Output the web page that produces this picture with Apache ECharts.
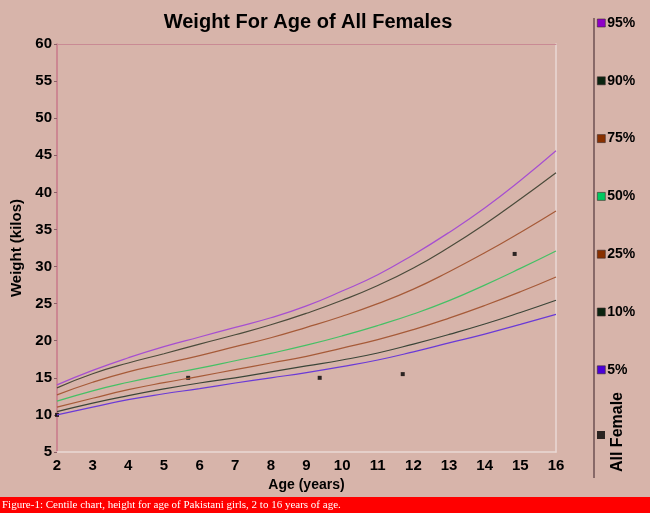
<!DOCTYPE html>
<html>
<head>
<meta charset="utf-8">
<script src="https://cdn.jsdelivr.net/npm/echarts@6/dist/echarts.min.js"></script>
<style>
    html, body { margin: 0; padding: 0; background: #d7b4aa; }
    #weight-age { width: 650px; height: 513px; }
</style>
</head>
<body>
<div id="weight-age"></div>
<script>
// 年龄 (岁)
var ages = [2, 3, 4, 5, 6, 7, 8, 9, 10, 11, 12, 13, 14, 15, 16];

// 百分位曲线 (kg)
var p95 = [14.05, 16.0, 17.7, 19.2, 20.5, 21.8, 23.1, 24.7, 26.7, 28.9, 31.6, 34.6, 37.9, 41.6, 45.6];
var p90 = [13.65, 15.55, 17.0, 18.25, 19.55, 20.8, 22.15, 23.7, 25.45, 27.45, 29.8, 32.6, 35.7, 39.1, 42.65];
var p75 = [12.7, 14.4, 15.8, 16.9, 18.0, 19.2, 20.4, 21.8, 23.3, 25.0, 26.95, 29.3, 31.85, 34.6, 37.5];
var p50 = [11.85, 13.25, 14.4, 15.4, 16.3, 17.3, 18.3, 19.4, 20.65, 22.05, 23.6, 25.4, 27.5, 29.75, 32.1];
var p25 = [11.05, 12.25, 13.4, 14.35, 15.2, 16.1, 17.0, 17.9, 19.0, 20.15, 21.5, 23.05, 24.75, 26.6, 28.6];
var p10 = [10.45, 11.6, 12.6, 13.5, 14.3, 15.0, 15.8, 16.6, 17.4, 18.35, 19.55, 20.85, 22.25, 23.8, 25.45];
var p5 = [10.0, 11.05, 12.05, 12.85, 13.55, 14.3, 15.0, 15.7, 16.5, 17.4, 18.5, 19.7, 20.9, 22.2, 23.55];

// All Female 实测点
var femaleAges = [2, 5.68, 9.37, 11.7, 14.84];
var femaleWeights = [10, 15, 15, 15.5, 31.7];

var lineNames = ['95%', '90%', '75%', '50%', '25%', '10%', '5%'];
var lineData = [p95, p90, p75, p50, p25, p10, p5];
// 线条颜色 / 图例方块颜色
var lineColors = ['#a64fd0', '#4b4b3b', '#a65a38', '#45c065', '#a65a38', '#3b4538', '#6a3ad6'];
var legendColors = ['#8e00c8', '#0a2410', '#883000', '#00c860', '#883000', '#0a2410', '#4a00d8'];

var font = '"Liberation Sans", Arial, sans-serif';

function pairs(xs, ys) {
    var out = [];
    for (var i = 0; i < xs.length; i++) {
        out.push([xs[i], ys[i]]);
    }
    return out;
}

var myChart = echarts.init(document.getElementById('weight-age'));

var series = [];
var legendData = [];
for (var i = 0; i < lineNames.length; i++) {
    series.push({
        name: lineNames[i],
        type: 'line',
        data: pairs(ages, lineData[i]),
        smooth: true,
        showSymbol: false,
        itemStyle: { color: legendColors[i] },
        lineStyle: { color: lineColors[i], width: 1.2 },
        silent: true
    });
    legendData.push({
        name: lineNames[i],
        itemStyle: { color: legendColors[i], borderColor: '#3a2a2a', borderWidth: 0.6 }
    });
}
series.push({
    name: 'All Female',
    type: 'scatter',
    data: pairs(femaleAges, femaleWeights),
    symbol: 'rect',
    symbolSize: 4,
    itemStyle: { color: '#000' }
});

var option = {
    backgroundColor: '#d7b4aa',
    animation: false,
    title: {
        text: 'Weight For Age of All Females',
        left: 303,
        top: 7,
        textAlign: 'center',
        textStyle: { fontFamily: font, fontWeight: 'bold', fontSize: 20, color: '#000' }
    },
    legend: [{
        orient: 'vertical',
        left: 597,
        top: 16,
        padding: 0,
        icon: 'rect',
        itemWidth: 8,
        itemHeight: 8,
        itemGap: 43.8,
        selectedMode: false,
        data: legendData,
        textStyle: { fontFamily: font, fontWeight: 'bold', fontSize: 14, color: '#000', lineHeight: 14, padding: [0, 0, 0, -3] }
    }, {
        orient: 'vertical',
        left: 597,
        top: 431,
        padding: 0,
        icon: 'rect',
        itemWidth: 8,
        itemHeight: 8,
        selectedMode: false,
        data: [{ name: 'All Female', itemStyle: { color: '#000' } }],
        formatter: function () { return ''; }
    }],
    grid: {
        left: 57,
        right: 94,
        top: 44,
        bottom: 61
    },
    xAxis: [{
        type: 'value',
        min: 2,
        max: 16,
        interval: 1,
        name: 'Age (years)',
        nameLocation: 'middle',
        nameGap: 26,
        nameTextStyle: { fontFamily: font, fontWeight: 'bold', fontSize: 14, color: '#000' },
        axisLine: { lineStyle: { color: '#ead9d5', width: 1.5 } },
        axisTick: { show: false },
        axisLabel: { fontFamily: font, fontWeight: 'bold', fontSize: 15, color: '#000', margin: 6 },
        splitLine: { show: false }
    }, {
        type: 'value',
        position: 'top',
        min: 2,
        max: 16,
        axisLine: { show: true, lineStyle: { color: '#c98a94', width: 1 } },
        axisTick: { show: false },
        axisLabel: { show: false },
        splitLine: { show: false }
    }],
    yAxis: [{
        type: 'value',
        min: 5,
        max: 60,
        interval: 5,
        name: 'Weight (kilos)',
        nameLocation: 'middle',
        nameGap: 31,
        nameTextStyle: { fontFamily: font, fontWeight: 'bold', fontSize: 15, color: '#000' },
        axisLine: { show: true, lineStyle: { color: '#c8798a', width: 1.5 } },
        axisTick: { show: true, length: 3, lineStyle: { color: '#8a6066' } },
        axisLabel: { fontFamily: font, fontWeight: 'bold', fontSize: 15, color: '#000', margin: 5 },
        splitLine: { show: false }
    }, {
        type: 'value',
        position: 'right',
        min: 5,
        max: 60,
        axisLine: { show: true, lineStyle: { color: '#ead9d5', width: 1.5 } },
        axisTick: { show: false },
        axisLabel: { show: false },
        splitLine: { show: false }
    }],
    graphic: [{
        // 图例左侧竖线
        type: 'line',
        shape: { x1: 594, y1: 18, x2: 594, y2: 478 },
        style: { stroke: '#6e5052', lineWidth: 1.5 }
    }, {
        type: 'text',
        x: 618,
        y: 432,
        rotation: Math.PI / 2,
        style: {
            text: 'All Female',
            fill: '#000',
            font: 'bold 16px ' + font,
            align: 'center',
            verticalAlign: 'middle'
        }
    }, {
        // 底部红色说明栏
        type: 'rect',
        shape: { x: 0, y: 497, width: 650, height: 16 },
        style: { fill: '#ff0000' }
    }, {
        type: 'text',
        x: 2,
        y: 505,
        style: {
            text: 'Figure-1: Centile chart, height for age of Pakistani girls, 2 to 16 years of age.',
            fill: '#fff',
            font: '11px "Liberation Serif", "Times New Roman", serif',
            verticalAlign: 'middle'
        }
    }],
    series: series
};

myChart.setOption(option);
</script>
</body>
</html>
